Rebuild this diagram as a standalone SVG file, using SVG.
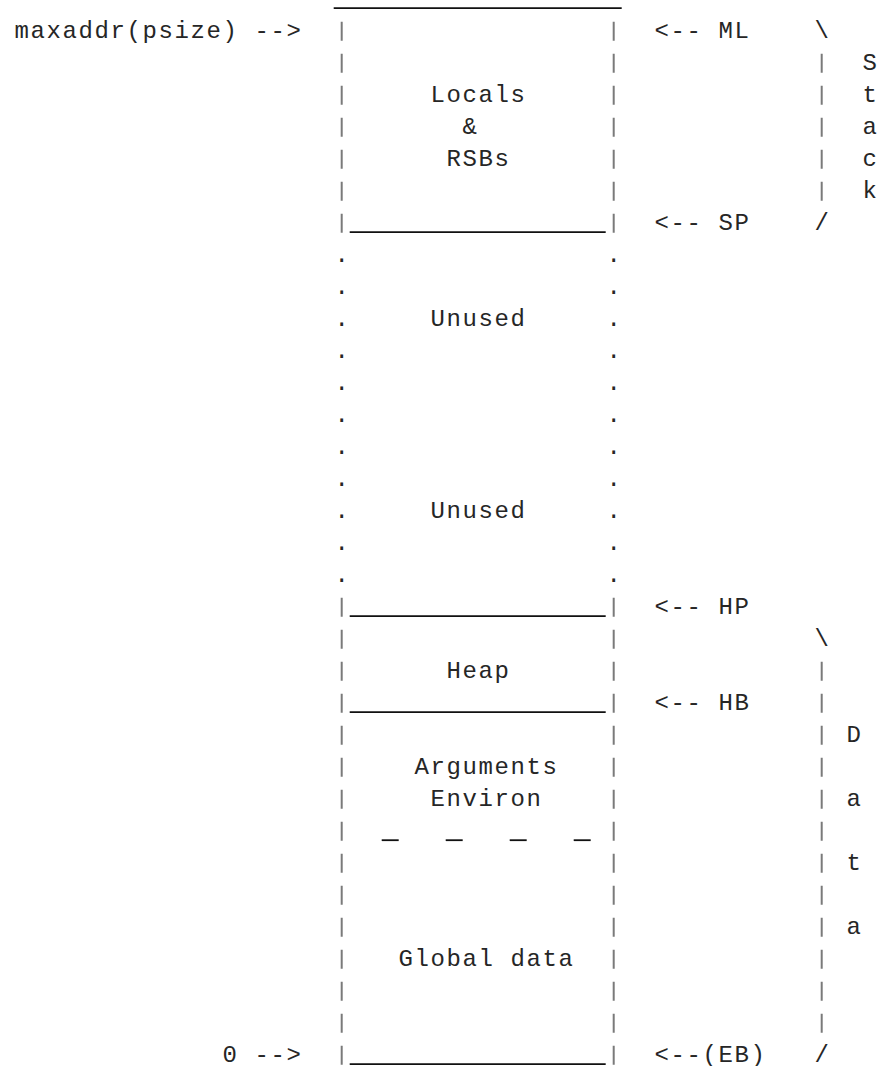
<svg xmlns="http://www.w3.org/2000/svg" width="879" height="1066" viewBox="0 0 879 1066">
  <style>
    .t { font-family: "Liberation Mono", "DejaVu Sans Mono", monospace; font-size: 24px; letter-spacing: 1.6px; fill: #262626; }
    .bar { stroke: #7a7a7a; stroke-width: 2; fill: none; stroke-dasharray: 19 13; }
    .rule { stroke: #111; stroke-width: 1.8; fill: none; }
  </style>
  <rect width="879" height="1066" fill="#fff"/>
  <!-- character grid: 16px columns, 32px rows; origin at column 0, row 0 baseline -->
  <g transform="translate(13.7,37.7)">

    <!-- stack area: locals and RSBs -->
    <g id="region-stack">
      <line class="rule" x1="320" y1="-29.5" x2="608" y2="-29.5"/>
      <line class="bar" x1="328" y1="-16" x2="328" y2="195"/>
      <line class="bar" x1="600" y1="-16" x2="600" y2="195"/>
      <line class="rule" x1="336" y1="194.5" x2="592" y2="194.5"/>
      <text class="t" x="416.8" y="64">Locals</text>
      <text class="t" x="448.8" y="96">&amp;</text>
      <text class="t" x="432.8" y="128">RSBs</text>
    </g>

    <!-- free space between stack and heap -->
    <g id="region-unused">
      <text class="t" x="320.8" y="224">.</text><text class="t" x="592.8" y="224">.</text>
      <text class="t" x="320.8" y="256">.</text><text class="t" x="592.8" y="256">.</text>
      <text class="t" x="320.8" y="288">.</text><text class="t" x="592.8" y="288">.</text>
      <text class="t" x="320.8" y="320">.</text><text class="t" x="592.8" y="320">.</text>
      <text class="t" x="320.8" y="352">.</text><text class="t" x="592.8" y="352">.</text>
      <text class="t" x="320.8" y="384">.</text><text class="t" x="592.8" y="384">.</text>
      <text class="t" x="320.8" y="416">.</text><text class="t" x="592.8" y="416">.</text>
      <text class="t" x="320.8" y="448">.</text><text class="t" x="592.8" y="448">.</text>
      <text class="t" x="320.8" y="480">.</text><text class="t" x="592.8" y="480">.</text>
      <text class="t" x="320.8" y="512">.</text><text class="t" x="592.8" y="512">.</text>
      <text class="t" x="320.8" y="544">.</text><text class="t" x="592.8" y="544">.</text>
      <text class="t" x="416.8" y="288">Unused</text>
      <text class="t" x="416.8" y="480">Unused</text>
    </g>

    <!-- heap -->
    <g id="region-heap">
      <line class="bar" x1="328" y1="560" x2="328" y2="675"/>
      <line class="bar" x1="600" y1="560" x2="600" y2="675"/>
      <line class="rule" x1="336" y1="578.5" x2="592" y2="578.5"/>
      <line class="rule" x1="336" y1="674.5" x2="592" y2="674.5"/>
      <text class="t" x="432.8" y="640">Heap</text>
    </g>

    <!-- arguments and environment -->
    <g id="region-args">
      <line class="bar" x1="328" y1="688" x2="328" y2="803"/>
      <line class="bar" x1="600" y1="688" x2="600" y2="803"/>
      <text class="t" x="400.8" y="736">Arguments</text>
      <text class="t" x="416.8" y="768">Environ</text>
      <line class="rule" x1="368" y1="802.5" x2="385" y2="802.5"/>
      <line class="rule" x1="432" y1="802.5" x2="449" y2="802.5"/>
      <line class="rule" x1="496" y1="802.5" x2="513" y2="802.5"/>
      <line class="rule" x1="560" y1="802.5" x2="577" y2="802.5"/>
    </g>

    <!-- global data -->
    <g id="region-global">
      <line class="bar" x1="328" y1="816" x2="328" y2="1027"/>
      <line class="bar" x1="600" y1="816" x2="600" y2="1027"/>
      <line class="rule" x1="336" y1="1026.5" x2="592" y2="1026.5"/>
      <text class="t" x="384.8" y="928">Global data</text>
    </g>

    <!-- span marker: Stack -->
    <g id="brace-stack">
      <text class="t" x="800.8" y="0">\</text>
      <line class="bar" x1="808" y1="16" x2="808" y2="163"/>
      <text class="t" x="800.8" y="192">/</text>
      <text class="t" x="848.8" y="32">S</text>
      <text class="t" x="848.8" y="64">t</text>
      <text class="t" x="848.8" y="96">a</text>
      <text class="t" x="848.8" y="128">c</text>
      <text class="t" x="848.8" y="160">k</text>
    </g>

    <!-- span marker: Data -->
    <g id="brace-data">
      <text class="t" x="800.8" y="608">\</text>
      <line class="bar" x1="808" y1="624" x2="808" y2="995"/>
      <text class="t" x="800.8" y="1024">/</text>
      <text class="t" x="832.8" y="704">D</text>
      <text class="t" x="832.8" y="768">a</text>
      <text class="t" x="832.8" y="832">t</text>
      <text class="t" x="832.8" y="896">a</text>
    </g>

    <!-- address and register pointers -->
    <g id="connectors">
      <text class="t" x="0.8" y="0">maxaddr(psize) --&gt;</text>
      <text class="t" x="208.8" y="1024">0 --&gt;</text>
      <text class="t" x="640.8" y="0">&lt;-- ML</text>
      <text class="t" x="640.8" y="192">&lt;-- SP</text>
      <text class="t" x="640.8" y="576">&lt;-- HP</text>
      <text class="t" x="640.8" y="672">&lt;-- HB</text>
      <text class="t" x="640.8" y="1024">&lt;--(EB)</text>
    </g>
  </g>
</svg>
